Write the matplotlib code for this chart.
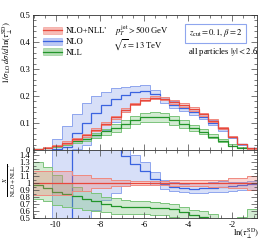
import numpy as np
import matplotlib
matplotlib.use('Agg')
from matplotlib import pyplot as plt
from matplotlib.patches import Patch
from matplotlib.lines import Line2D
from matplotlib.ticker import MultipleLocator, FuncFormatter

plt.rcParams['font.family'] = ['Liberation Serif', 'DejaVu Serif']
plt.rcParams['mathtext.fontset'] = 'stix'
plt.rcParams['axes.unicode_minus'] = False
plt.rcParams['font.size'] = 6.2

# bin edges in ln(tau_perp^SD), 23 bins
edges = np.linspace(-11.04, -0.88, 24)

# NLO+NLL' (red)
nlo_nll = [0.003, 0.008, 0.016, 0.027, 0.040, 0.054, 0.075, 0.098, 0.122, 0.148, 0.170, 0.186,
           0.194, 0.190, 0.178, 0.167, 0.152, 0.132, 0.108, 0.081, 0.050, 0.022, 0.006]
nlo_nll_hi = [0.0035, 0.0094, 0.0187, 0.0316, 0.0448, 0.0605, 0.0803, 0.1049, 0.1275, 0.1547, 0.1751, 0.1916,
              0.1998, 0.1957, 0.1851, 0.1737, 0.1581, 0.1373, 0.1134, 0.0851, 0.0535, 0.0235, 0.0066]
nlo_nll_lo = [0.0025, 0.0066, 0.0133, 0.0224, 0.0352, 0.0475, 0.0698, 0.0911, 0.1165, 0.1413, 0.1649, 0.1804,
              0.1882, 0.1843, 0.1709, 0.1603, 0.1459, 0.1267, 0.1026, 0.0770, 0.0465, 0.0205, 0.0054]

# NLO (blue)
nlo = [0.0, 0.0, 0.004, 0.010, 0.062, 0.100, 0.138, 0.168, 0.190, 0.205, 0.216, 0.218,
       0.206, 0.188, 0.168, 0.155, 0.140, 0.122, 0.101, 0.077, 0.048, 0.0213, 0.0059]
nlo_hi = [0.0, 0.0, 0.041, 0.088, 0.132, 0.173, 0.201, 0.216, 0.228, 0.232, 0.238, 0.242,
          0.224, 0.198, 0.180, 0.166, 0.152, 0.133, 0.110, 0.083, 0.051, 0.0225, 0.0062]
nlo_lo = [0.0, 0.0, -0.03, -0.02, 0.005, 0.020, 0.046, 0.074, 0.104, 0.141, 0.175, 0.192,
          0.190, 0.175, 0.157, 0.145, 0.131, 0.114, 0.094, 0.071, 0.0445, 0.0198, 0.0054]

# NLL (green)
nll = [0.0029, 0.0074, 0.0139, 0.0227, 0.0324, 0.042, 0.0555, 0.0686, 0.0817, 0.098, 0.112, 0.121,
       0.124, 0.121, 0.111, 0.097, 0.082, 0.068, 0.050, 0.032, 0.016, 0.007, 0.0025]
nll_hi = [0.0039, 0.0098, 0.0178, 0.027, 0.038, 0.0475, 0.0638, 0.0784, 0.0952, 0.1125, 0.1275, 0.1376,
          0.1416, 0.1368, 0.1246, 0.1102, 0.0942, 0.0792, 0.0594, 0.0405, 0.024, 0.0114, 0.0038]
nll_lo = [0.0023, 0.0059, 0.0109, 0.0178, 0.0256, 0.0335, 0.045, 0.0568, 0.0683, 0.0814, 0.0952, 0.1023,
          0.1048, 0.1026, 0.0926, 0.0818, 0.0699, 0.0581, 0.0432, 0.0284, 0.016, 0.0066, 0.0018]

series = [
    ('NLO', nlo, nlo_lo, nlo_hi, '#3a63e0', '#8fa6ee', '#7d95e8'),
    ('NLL', nll, nll_lo, nll_hi, '#22952a', '#7cc47c', '#6cbf6c'),
    ("NLO+NLL'", nlo_nll, nlo_nll_lo, nlo_nll_hi, '#e8483c', '#f08a80', '#f07a70'),
]
legend_order = ["NLO+NLL'", 'NLO', 'NLL']

fig = plt.figure(figsize=(2.66, 2.40), dpi=100)
ax = fig.add_axes([0.124, 0.375, 0.842, 0.5625])
axr = fig.add_axes([0.124, 0.092, 0.842, 0.283], sharex=ax)

ref = np.array(nlo_nll)
handles = {}
for name, c, lo, hi, col, edge, fill in series:
    c, lo, hi = np.array(c), np.array(lo), np.array(hi)
    for a, scale in ((ax, 1.0), (axr, ref)):
        a.stairs(hi / scale, edges, baseline=lo / scale, fill=True, color=fill, alpha=0.3, lw=0)
        a.stairs(hi / scale, edges, baseline=None, color=edge, lw=0.7)
        a.stairs(lo / scale, edges, baseline=None, color=edge, lw=0.7)
        a.stairs(c / scale, edges, baseline=None, color=col, lw=0.9)
    handles[name] = (Patch(facecolor=fill, edgecolor=edge, alpha=0.5, lw=0.7),
                     Line2D([], [], color=col, lw=0.9))

ax.set_xlim(edges[0], edges[-1])
ax.set_ylim(0, 0.5)
axr.set_ylim(0.5, 1.475)

fmt = FuncFormatter(lambda v, p: '%g' % round(v, 2))
for a in (ax, axr):
    a.tick_params(which='both', direction='in', top=True, right=True, width=0.5, colors='#444444',
                  labelcolor='black', labelsize=6.2, pad=2)
    a.tick_params(which='major', length=4)
    a.tick_params(which='minor', length=2)
    a.xaxis.set_major_locator(MultipleLocator(2))
    a.xaxis.set_minor_locator(MultipleLocator(0.5))
    a.yaxis.set_major_formatter(fmt)
    for s in a.spines.values():
        s.set_linewidth(0.6)
        s.set_color('#333333')

ax.yaxis.set_major_locator(MultipleLocator(0.1))
ax.yaxis.set_minor_locator(MultipleLocator(0.02))
axr.yaxis.set_major_locator(MultipleLocator(0.1))
axr.yaxis.set_minor_locator(MultipleLocator(0.05))
plt.setp(ax.get_xticklabels(), visible=False)
ax.get_yticklabels()[0].set_va('bottom')

ax.legend([handles[n] for n in legend_order], legend_order, loc='upper left',
          bbox_to_anchor=(0.02, 0.95), frameon=False, handlelength=2.3, handleheight=0.9,
          labelspacing=0.25, handletextpad=0.4, borderaxespad=0.2)

ax.text(0.366, 0.885, r'$p_T^{\rm jet} > 500$ GeV', transform=ax.transAxes, va='center', ha='left')
ax.text(0.357, 0.775, r'$\sqrt{s} = 13$ TeV', transform=ax.transAxes, va='center', ha='left')
ax.text(0.815, 0.863, r'$z_{\rm cut} = 0.1,\,\beta = 2$', transform=ax.transAxes, va='center', ha='center',
        bbox=dict(boxstyle='square,pad=0.45', facecolor='white', edgecolor='#8fa6ee', lw=0.8))
ax.text(1.005, 0.726, r'all particles $|y| < 2.6$', transform=ax.transAxes, va='center', ha='right')

fig.text(0.028, 0.78, r'$1/\sigma_{\rm LO}\,d\sigma/d\,\ln(\tau_\perp^{\rm SD})$', rotation=90,
         va='center', ha='center')
fig.text(0.035, 0.25, r"$\frac{X}{\rm NLO+NLL'}$", rotation=90, va='center', ha='center')
fig.text(0.975, 0.024, r'$\ln(\tau_\perp^{\rm SD})$', va='center', ha='right')

fig.savefig('out.png', dpi=100)
